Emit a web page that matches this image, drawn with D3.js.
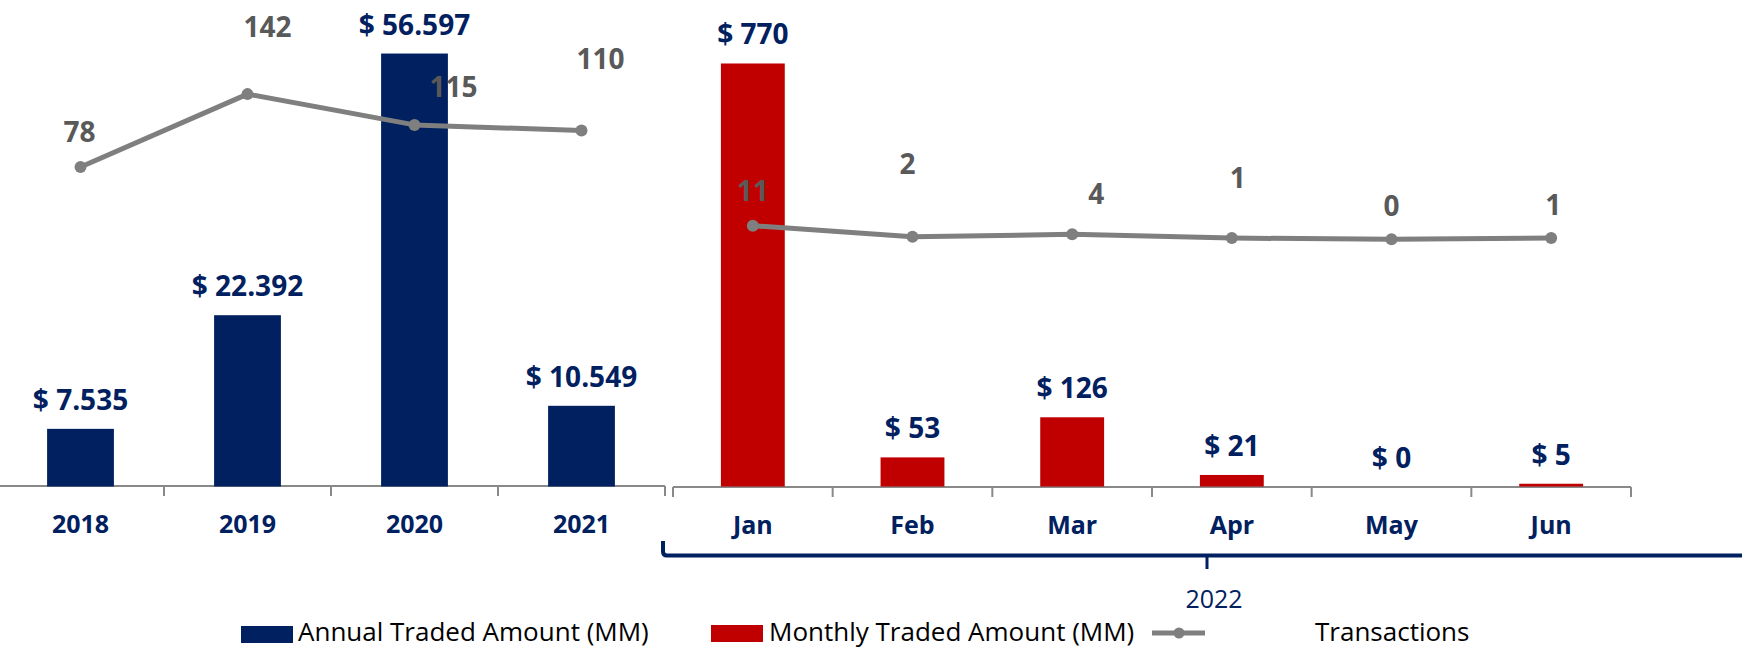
<!DOCTYPE html>
<html>
<head>
<meta charset="utf-8">
<script src="https://cdn.jsdelivr.net/npm/d3@7"></script>
<style>
  html, body { margin: 0; padding: 0; background: #fff; overflow: hidden; }
  svg { display: block; font-family: "Open Sans", "Noto Sans", sans-serif; }
</style>
</head>
<body>
<svg id="chart" width="1742" height="649"></svg>
<script>
// ---------- data ----------
const years = ["2018", "2019", "2020", "2021"];
const annualAmount = [7.535, 22.392, 56.597, 10.549];
const annualTransactions = [78, 142, 115, 110];

const months = ["Jan", "Feb", "Mar", "Apr", "May", "Jun"];
const monthlyAmount = [770, 53, 126, 21, 0, 5];
const monthlyTransactions = [11, 2, 4, 1, 0, 1];

const groupLabel = "2022";
const legendLabels = ["Annual Traded Amount (MM)", "Monthly Traded Amount (MM)", "Transactions"];

// ---------- layout / style ----------
const NAVY = "#002060", RED = "#C00000", LINE = "#7F7F7F", TXT_GRAY = "#595959", AXIS = "#898989";
const baseY = 486.5;
// manual label nudges (dx, dy from point), as placed in the original
const annualTxNudge = [[-1, -25], [20, -57], [39, -28], [19, -62]];
const monthlyTxNudge = [[0, -25], [-5, -63], [24, -30], [6, -50], [0, -23], [2, -23]];

const svg = d3.select("#chart");

// scales
const xL = d3.scaleBand().domain(years).range([-3, 665]).padding(0);
const xR = d3.scaleBand().domain(months).range([673, 1631]).padding(0);
const yL = d3.scaleLinear().domain([0, 60]).range([baseY, baseY - 459]);
const yR = d3.scaleLinear().domain([0, 800]).range([baseY, baseY - 439.5]);
const yLtx = d3.scaleLinear().domain([0, 160]).range([256, 73.6]);
const yRtx = d3.scaleLinear().domain([0, 20]).range([239.3, 214.6]);

const barFrac = 0.4;

// ---------- axes ----------
function drawAxis(x, cats, yPos, tickStart) {
  const g = svg.append("g").attr("transform", `translate(0,${yPos})`);
  const axis = d3.axisBottom(x).tickSize(0).tickPadding(0);
  g.call(axis);
  g.select(".domain").remove();
  const [r0, r1] = x.range();
  g.append("line").attr("x1", r0 < 0 ? 0 : r0).attr("x2", r1).attr("y1", 0).attr("y2", 0)
    .attr("stroke", AXIS).attr("stroke-width", 2);
  const bounds = cats.map(c => x(c) + x.bandwidth());
  if (tickStart) bounds.unshift(r0);
  g.selectAll("line.tk").data(bounds).enter().append("line").attr("class", "tk")
    .attr("x1", d => d).attr("x2", d => d).attr("y1", 0).attr("y2", 10)
    .attr("stroke", AXIS).attr("stroke-width", 2);
  g.selectAll(".tick text")
    .attr("y", 46.5)
    .attr("dy", null)
    .attr("fill", NAVY)
    .attr("font-size", 25)
    .attr("font-weight", "bold")
    .attr("font-family", '"Open Sans", "Noto Sans", sans-serif');
}
drawAxis(xL, years, baseY - 0.5, false);
drawAxis(xR, months, baseY + 0.5, true);

// ---------- bars ----------
function drawBars(x, y, cats, vals, color, fmt) {
  const g = svg.append("g");
  const w = x.bandwidth() * barFrac;
  g.selectAll("rect").data(cats).enter().append("rect")
    .attr("x", (d) => x(d) + (x.bandwidth() - w) / 2)
    .attr("width", w)
    .attr("y", (d, i) => y(vals[i]))
    .attr("height", (d, i) => y(0) - y(vals[i]))
    .attr("fill", color);
  g.selectAll("text").data(cats).enter().append("text")
    .attr("x", d => x(d) + x.bandwidth() / 2)
    .attr("y", (d, i) => y(vals[i]) - 19)
    .attr("text-anchor", "middle")
    .attr("fill", NAVY)
    .attr("font-size", 28)
    .attr("font-weight", "bold")
    .text((d, i) => "$ " + fmt(vals[i]));
}
drawBars(xL, yL, years, annualAmount, NAVY, d3.format(".3f"));
drawBars(xR, yR, months, monthlyAmount, RED, d3.format("d"));

// ---------- lines ----------
function drawLine(x, y, cats, vals, nudge) {
  const g = svg.append("g");
  const pts = cats.map((c, i) => [x(c) + x.bandwidth() / 2, y(vals[i])]);
  g.append("path").attr("d", d3.line()(pts))
    .attr("fill", "none").attr("stroke", LINE).attr("stroke-width", 5)
    .attr("stroke-linejoin", "round");
  g.selectAll("circle").data(pts).enter().append("circle")
    .attr("cx", d => d[0]).attr("cy", d => d[1]).attr("r", 6).attr("fill", LINE);
  g.selectAll("text").data(pts).enter().append("text")
    .attr("x", (d, i) => d[0] + nudge[i][0])
    .attr("y", (d, i) => d[1] + nudge[i][1])
    .attr("text-anchor", "middle")
    .attr("fill", TXT_GRAY)
    .attr("font-size", 28)
    .attr("font-weight", "bold")
    .text((d, i) => vals[i]);
}
drawLine(xL, yLtx, years, annualTransactions, annualTxNudge);
drawLine(xR, yRtx, months, monthlyTransactions, monthlyTxNudge);

// ---------- 2022 bracket ----------
const br = svg.append("g").attr("stroke", NAVY).attr("fill", "none").attr("stroke-width", 4);
const bx0 = 663, by = 555.5;
br.append("path").attr("d", `M${bx0},541 L${bx0},${by - 4} Q${bx0},${by} ${bx0 + 4},${by} L1742,${by}`);
br.append("line").attr("x1", 1207).attr("x2", 1207).attr("y1", by).attr("y2", 569).attr("stroke-width", 3);
svg.append("text").attr("x", 1214).attr("y", 608).attr("text-anchor", "middle")
  .attr("fill", NAVY).attr("font-size", 25).text(groupLabel);

// ---------- legend ----------
const lg = svg.append("g").attr("font-size", 26).attr("fill", "#000");
lg.append("rect").attr("x", 241).attr("y", 626).attr("width", 52).attr("height", 17).attr("fill", NAVY);
lg.append("text").attr("x", 298).attr("y", 641).text(legendLabels[0]);
lg.append("rect").attr("x", 711).attr("y", 625).attr("width", 52).attr("height", 17).attr("fill", RED);
lg.append("text").attr("x", 769).attr("y", 641).text(legendLabels[1]);
lg.append("line").attr("x1", 1152).attr("x2", 1205).attr("y1", 633).attr("y2", 633)
  .attr("stroke", LINE).attr("stroke-width", 5);
lg.append("circle").attr("cx", 1179).attr("cy", 633).attr("r", 5.5).attr("fill", LINE);
lg.append("text").attr("x", 1315).attr("y", 641).text(legendLabels[2]);
</script>
</body>
</html>
